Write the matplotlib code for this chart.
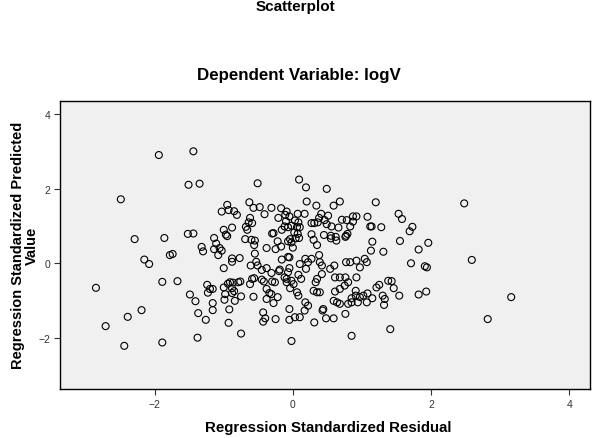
import matplotlib
matplotlib.use("Agg")
import matplotlib.pyplot as plt

plt.rcParams['font.family'] = ['Liberation Sans', 'DejaVu Sans']

# Regression standardized residual (x) and predicted value (y)
resid = [
    -2.85, -2.71, -2.49, -2.44, -2.39, -2.29, -2.19, -2.15, -2.08, -1.94,
    -1.89, -1.86, -1.89, -1.78, -1.74, -1.67, -1.52, -1.51, -1.49, -1.44,
    -1.44, -1.35, -0.51, -0.63, -0.57, -0.48, -0.41, -0.31, -0.17, -0.11,
    -0.21, -0.09, -0.95, -0.93, -1.03, -0.85, -0.81, -0.62, -0.64, -0.59,
    -0.68, -0.66, -0.88, -1.00, -0.97, -0.95, -0.28, -0.30, -0.16, -0.12,
    -0.10, -0.22, -1.14, -1.11, -1.06, -1.03, -1.14, -1.32, -1.30, -0.69,
    -0.60, -0.55, -0.56, -0.38, -0.25, -0.17, -0.07, -1.08, -0.88, -0.88,
    -0.77, -1.00, -0.55, -0.16, -0.07, -0.61, -0.53, -0.51, -0.38, -0.45,
    -0.31, -0.20, -0.19, -0.12, -0.09, -0.07, -1.24, -1.20, -1.23, -1.16,
    -1.41, -1.37, -1.26, -1.38, -1.00, -0.94, -0.91, -0.87, -0.79, -0.76,
    -0.88, -0.85, -0.88, -0.98, -0.99, -0.84, -0.75, -1.16, -1.16, -0.92,
    -0.93, -0.75, -0.62, -0.59, -0.56, -0.45, -0.42, -0.30, -0.26, -0.38,
    -0.34, -0.31, -0.38, -0.22, -0.28, -0.57, -0.43, -0.40, -0.43, -0.25,
    -0.05, -0.02, 0.09, 0.19, 0.49, 0.20, 0.34, 0.59, 0.68, 1.20,
    0.07, 0.17, 0.41, 0.51, 0.38, 0.46, 0.36, 0.27, 0.31, 0.49,
    0.56, 0.66, 0.71, 0.78, 0.87, 0.92, 0.87, 0.83, 1.08, 1.12,
    1.14, 1.28, -0.05, 0.03, 0.08, -0.02, 0.06, 0.10, -0.07, 0.02,
    0.07, 0.09, 0.04, -0.04, -0.02, 0.00, 0.27, 0.30, 0.35, 0.45,
    0.55, 0.55, 0.62, 0.63, 0.77, 0.79, 0.76, 1.15, 1.13, 1.31,
    0.38, 2.48, 1.53, 1.58, 1.73, 1.69, 1.55, 1.96, 1.82, -0.05,
    0.10, 0.18, 0.22, 0.27, 0.19, 0.39, 0.42, -0.05, 0.08, 0.12,
    -0.02, -0.09, 0.01, -0.04, 0.06, 0.08, 0.18, 0.22, 0.17, 0.10,
    0.03, -0.05, 0.31, 0.44, 0.43, 0.48, 0.59, 0.33, 0.35, 0.42,
    0.30, 0.35, 0.39, 0.54, 0.60, 0.61, 0.68, 0.76, 0.80, 0.75,
    0.68, 0.61, 0.59, 0.64, 0.68, 0.77, 0.83, 0.92, 1.04, 1.07,
    0.97, 0.92, 0.85, 0.91, 0.91, 0.97, 1.02, 1.08, 1.15, 1.07,
    0.80, 0.76, 0.85, 0.94, 1.21, 1.25, 1.30, 1.33, 1.32, 1.38,
    0.85, 1.41, 1.71, 1.91, 1.94, 2.59, 1.43, 1.46, 1.54, 1.82,
    1.93, 2.82, 3.16,
]
pred = [
    -0.66, -1.69, 1.72, -2.22, -1.44, 0.65, -1.26, 0.10, -0.02, 2.91,
    -0.50, 0.68, -2.13, 0.22, 0.25, -0.48, 0.79, 2.11, -0.84, 3.01,
    0.80, 2.14, 2.15, 1.64, 1.49, 1.51, 1.32, 1.49, 1.48, 1.30,
    1.22, 1.39, 1.57, 1.43, 1.39, 1.40, 1.30, 1.22, 1.10, 1.08,
    0.98, 0.90, 0.96, 0.90, 0.77, 0.73, 0.81, 0.80, 0.90, 0.99,
    1.13, 0.59, 0.68, 0.53, 0.41, 0.34, 0.38, 0.44, 0.32, 0.65,
    0.63, 0.61, 0.49, 0.41, 0.38, 0.45, 0.59, 0.22, 0.04, 0.13,
    0.14, -0.13, 0.26, 0.10, 0.17, -0.06, 0.04, -0.06, -0.13, -0.18,
    -0.26, -0.21, -0.17, -0.38, -0.42, -0.24, -0.58, -0.69, -0.79, -0.69,
    -1.02, -1.34, -1.52, -2.00, -0.65, -0.55, -0.51, -0.52, -0.51, -0.49,
    -0.67, -0.75, -0.80, -0.83, -0.98, -1.01, -0.89, -1.07, -1.26, -1.24,
    -1.60, -1.89, -0.56, -0.42, -0.40, -0.44, -0.49, -0.49, -0.51, -0.69,
    -0.80, -0.83, -0.96, -0.91, -1.07, -0.90, -1.32, -1.48, -1.57, -1.50,
    -1.23, -2.09, 2.25, 2.04, 2.00, 1.66, 1.55, 1.55, 1.66, 1.64,
    1.33, 1.33, 1.33, 1.28, 1.22, 1.16, 1.10, 1.08, 1.08, 1.05,
    0.99, 0.96, 1.17, 1.16, 1.26, 1.26, 1.12, 0.99, 1.25, 0.99,
    0.99, 0.97, 1.26, 1.15, 1.10, 1.01, 0.97, 0.97, 0.97, 0.83,
    0.79, 0.68, 0.67, 0.65, 0.56, 0.42, 0.78, 0.63, 0.49, 0.76,
    0.74, 0.67, 0.71, 0.61, 0.74, 0.79, 0.71, 0.58, 0.34, 0.31,
    0.22, 1.61, 1.33, 1.19, 0.98, 0.86, 0.60, 0.55, 0.37, 0.16,
    -0.02, 0.12, 0.03, 0.12, -0.15, 0.03, -0.06, -0.13, -0.31, -0.42,
    -0.47, -0.51, -0.56, -0.67, -0.78, -0.87, -1.05, -1.14, -1.27, -1.45,
    -1.45, -1.52, -1.59, -1.23, -1.27, -1.48, -1.48, -0.51, -0.42, -0.29,
    -0.74, -0.78, -0.78, -0.15, -0.06, -0.38, -0.38, -0.38, -0.51, -0.60,
    -0.69, -0.76, -1.01, -1.05, -1.09, 0.03, 0.03, 0.07, 0.12, 0.03,
    -0.11, -0.38, -0.94, -0.87, -0.74, -0.91, -0.87, -0.81, -0.94, -1.05,
    -1.09, -1.36, -1.05, -1.05, -0.65, -0.58, -0.87, -0.96, -1.12, -0.47,
    -1.95, -1.77, 0.00, -0.08, -0.11, 0.09, -0.48, -0.67, -0.87, -0.84,
    -0.76, -1.50, -0.91,
]

fig = plt.figure(figsize=(6.02, 4.39), dpi=100)
ax = fig.add_axes([0.0997, 0.1116, 0.8803, 0.6567])
ax.set_facecolor('#f0f0f0')

ax.scatter(resid, pred, s=25, facecolors='none', edgecolors='black', linewidths=0.8)

ax.set_xlim(-3.37, 4.30)
ax.set_ylim(-3.38, 4.37)
ax.set_xticks([-2, 0, 2, 4])
ax.set_yticks([-2, 0, 2, 4])
ax.tick_params(direction='out', length=4, width=0.8, labelsize=7.5,
               colors='#333333', pad=3)
for sp in ax.spines.values():
    sp.set_linewidth(1.0)
    sp.set_color('black')

fig.text(0.49, 0.984, 'Scatterplot', ha='center', va='center',
         fontsize=11, fontweight='bold')
fig.text(0.497, 0.827, 'Dependent Variable: logV', ha='center', va='center',
         fontsize=12.2, fontweight='bold')
fig.text(0.545, 0.025, 'Regression Standardized Residual', ha='center',
         va='center', fontsize=10.8, fontweight='bold')
fig.text(0.042, 0.44, 'Regression Standardized Predicted\nValue', ha='center',
         va='center', rotation=90, fontsize=10.5, fontweight='bold',
         multialignment='center', linespacing=1.0)

fig.savefig('out.png', dpi=100)
